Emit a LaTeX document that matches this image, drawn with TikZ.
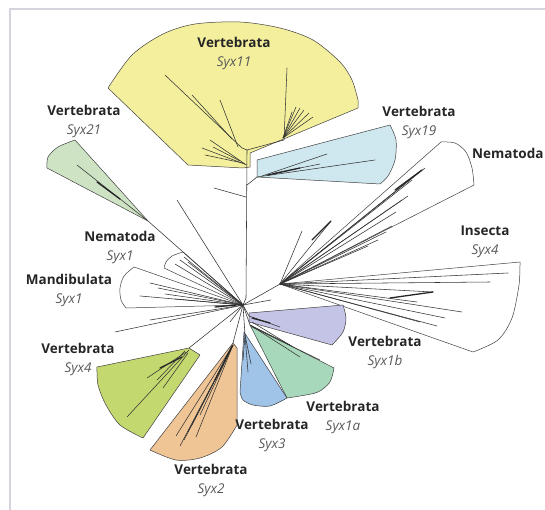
\documentclass[tikz,border=0pt]{standalone}
\usepackage{fontspec}
\setmainfont{Open Sans}
\definecolor{cY}{HTML}{F3EF9C}
\definecolor{cBa}{HTML}{CFE7EF}
\definecolor{cGa}{HTML}{CDE3C4}
\definecolor{cL}{HTML}{C4D870}
\definecolor{cO}{HTML}{F0C596}
\definecolor{cBb}{HTML}{A0C3E8}
\definecolor{cGb}{HTML}{A8D8BB}
\definecolor{cLav}{HTML}{C4C4E6}
\definecolor{cFrame}{HTML}{D4D4DE}
\begin{document}
\begin{tikzpicture}[x=1pt,y=-1pt,
  tree/.style={line width=0.55pt, black!80, line cap=round},
  thick tree/.style={line width=1.3pt, black!85, line cap=round},
  wedge/.style={draw=black!75, line width=0.5pt, line join=round},
  lab/.style={align=center, font=\fontsize{13.5}{19}\selectfont, text=black!85},
  frameline/.style={draw=cFrame, line width=1.5pt},
]
\useasboundingbox (0,0) rectangle (545,510);
\draw[frameline] (10,510) -- (10,9) -- (545,9);

% hubs
\coordinate (C) at (243,305);
\coordinate (R) at (280,284);
\coordinate (Y) at (247,150);
\coordinate (V) at (247,185);

% ---- clade wedges ----
\filldraw[wedge, fill=cY] (188,165) -- (108,88) -- plot[smooth] coordinates {(108,88) (132,55) (163,34) (195,24) (240,22) (280,28) (313,40) (340,62) (352,80) (358,100)} -- (358,108) -- (250,153) -- (250,167) -- (243,168) -- cycle;
\filldraw[wedge, fill=cBa] (257,160) -- (390,125) -- plot[smooth] coordinates {(390,125) (396,140) (395,160) (388,176) (380,184)} -- (257,177) -- cycle;
\filldraw[wedge, fill=cGa] (148,221) -- (75,140) -- plot[smooth] coordinates {(75,140) (58,147) (48,157) (47,168)} -- cycle;
\filldraw[wedge, fill=white] (C) -- (183,252) -- plot[smooth] coordinates {(183,252) (172,256) (166,262) (164,268)} -- cycle;
\filldraw[wedge, fill=white] (C) -- (134,267) -- plot[smooth] coordinates {(134,267) (124,276) (120,288) (121,300) (126,308)} -- cycle;
\filldraw[wedge, fill=white] (R) -- (441,142) -- plot[smooth] coordinates {(441,142) (455,143) (466,152) (472,168) (474,185)} -- cycle;
\filldraw[wedge, fill=white] (R) -- (520,262) -- plot[smooth] coordinates {(520,262) (519,285) (512,318) (498,340) (473,352)} -- cycle;
\filldraw[wedge, fill=cL] (189,348) -- (200,355) -- (143,438) -- plot[smooth] coordinates {(143,438) (120,425) (106,405) (98,385) (97,367)} -- cycle;
\filldraw[wedge, fill=cO] (233,343) -- (237,348) -- (237,425) -- plot[smooth] coordinates {(237,425) (222,447) (200,458) (176,460) (150,450)} -- cycle;
\filldraw[wedge, fill=cGb] (250,325) -- (334,368) -- plot[smooth] coordinates {(334,368) (330,382) (318,392) (300,396) (287,398)} -- cycle;
\filldraw[wedge, fill=cBb] (244,332) -- (287,398) -- plot[smooth] coordinates {(287,398) (270,406) (253,405) (243,400) (240,392)} -- cycle;
\filldraw[wedge, fill=cLav] (249,313) -- (343,305) -- plot[smooth] coordinates {(343,305) (346,318) (343,332) (332,345)} -- (249,322) -- cycle;

% ---- tree ----
\draw[tree] (Y) -- (246,298) -- (C);
% Syx11
\draw[tree] (Y) -- (242,148) -- (165,75);
\draw[tree] (Y) -- (284,140) -- (287,68);
\foreach \p in {(300,108),(304,110),(309,113),(296,107),(313,117),(292,112)} \draw[tree] (283,138) -- \p;
\draw[tree] (232,139) -- (192,95);
\draw[tree] (238,147) -- (220,100);
\draw[tree] (247,165) -- (202,148);
\draw[tree] (245,164) -- (210,140);
\draw[tree] (243,163) -- (205,155);
\draw[tree] (240,161) -- (213,147);
% Syx19
\draw[tree] (V) -- (257,177) -- (375,160);
\draw[tree] (262,176) -- (327,154);
\draw[tree] (275,173) -- (320,164);
\draw[thick tree] (268,175) -- (300,168);
% central extras
\draw[tree] (214,188) -- (246,197);
\draw[tree] (177,200) -- (C);
% Syx21
\draw[tree] (148,221) -- (C);
\draw[tree] (77,165) -- (148,221);
\draw[thick tree] (97,182) -- (120,199);
% Nematoda Syx1
\foreach \p in {(184,257),(180,260),(188,262),(175,264)} \draw[tree] (C) -- \p;
% Mandibulata
\foreach \p in {(150,283),(158,288),(165,294),(140,296),(175,299)} \draw[tree] (C) -- \p;
\draw[thick tree] (215,307) -- (236,305);
\draw[tree] (C) -- (115,332);
\draw[tree] (C) -- (150,320);
\draw[tree] (C) -- (271,300);
\draw[tree] (C) -- (230,322);
% right group
\draw[tree] (C) -- (R);
\foreach \p in {(425,168),(418,173),(412,180),(408,196),(402,200),(396,212),(392,226),(386,232),(378,240),(368,246)} \draw[tree] (R) -- \p;
\draw[thick tree] (395,190) -- (422,170);
\draw[tree] (R) -- (302,231);
\draw[tree] (R) -- (331,221);
\draw[thick tree] (312,240) -- (331,221);
\foreach \p in {(508,273),(490,282),(433,292),(417,302),(462,312),(437,326),(420,322),(445,318)} \draw[tree] (R) -- \p;
\draw[thick tree] (390,298) -- (433,292);
% Syx4
\draw[tree] (C) -- (189,348);
\draw[tree] (189,350) -- (127,417);
\draw[tree] (186,352) -- (147,378);
\draw[tree] (188,353) -- (163,388);
\draw[thick tree] (160,368) -- (182,357);
\draw[tree] (185,351) -- (157,380);
% Syx2
\draw[tree] (C) -- (233,343);
\foreach \p in {(180,446),(184,440),(188,432),(192,425),(196,437),(176,436),(200,415)} \draw[tree] (233,345) -- \p;
\draw[thick tree] (215,380) -- (232,346);
% Syx3
\draw[tree] (C) -- (245,335);
\draw[tree] (245,335) -- (248,372);
\draw[tree] (245,335) -- (251,364);
\draw[tree] (245,335) -- (243,360);
% Syx1a
\draw[tree] (C) -- (250,325) -- (300,357);
\draw[tree] (250,325) -- (290,345);
\draw[tree] (252,327) -- (320,360);
% Syx1b
\draw[tree] (C) -- (249,316) -- (280,327);
\draw[tree] (252,322) -- (293,347);
\draw[thick tree] (252,318) -- (270,323);

% ---- labels ----
\node[lab] (l11) at (234,54) {\textbf{Vertebrata}\\\textit{\color{black!65}Syx11}};
\node[lab] (l21) at (84,121) {\textbf{Vertebrata}\\\textit{\color{black!65}Syx21}};
\node[lab] (l19) at (419,122) {\textbf{Vertebrata}\\\textit{\color{black!65}Syx19}};
\node[lab, anchor=west, inner sep=0pt] (lnr) at (472,153) {\textbf{Nematoda}};
\node[lab] (lin) at (485,242) {\textbf{Insecta}\\\textit{\color{black!65}Syx4}};
\node[lab] (lnl) at (120,247) {\textbf{Nematoda}\\\textit{\color{black!65}Syx1}};
\node[lab] (lma) at (69,290) {\textbf{Mandibulata}\\\textit{\color{black!65}Syx1}};
\node[lab] (l4) at (78,359) {\textbf{Vertebrata}\\\textit{\color{black!65}Syx4}};
\node[lab] (l1b) at (385,352) {\textbf{Vertebrata}\\\textit{\color{black!65}Syx1b}};
\node[lab] (l1a) at (343,417) {\textbf{Vertebrata}\\\textit{\color{black!65}Syx1a}};
\node[lab] (l3) at (272,435) {\textbf{Vertebrata}\\\textit{\color{black!65}Syx3}};
\node[lab] (l2) at (211,480) {\textbf{Vertebrata}\\\textit{\color{black!65}Syx2}};
\end{tikzpicture}
\end{document}
